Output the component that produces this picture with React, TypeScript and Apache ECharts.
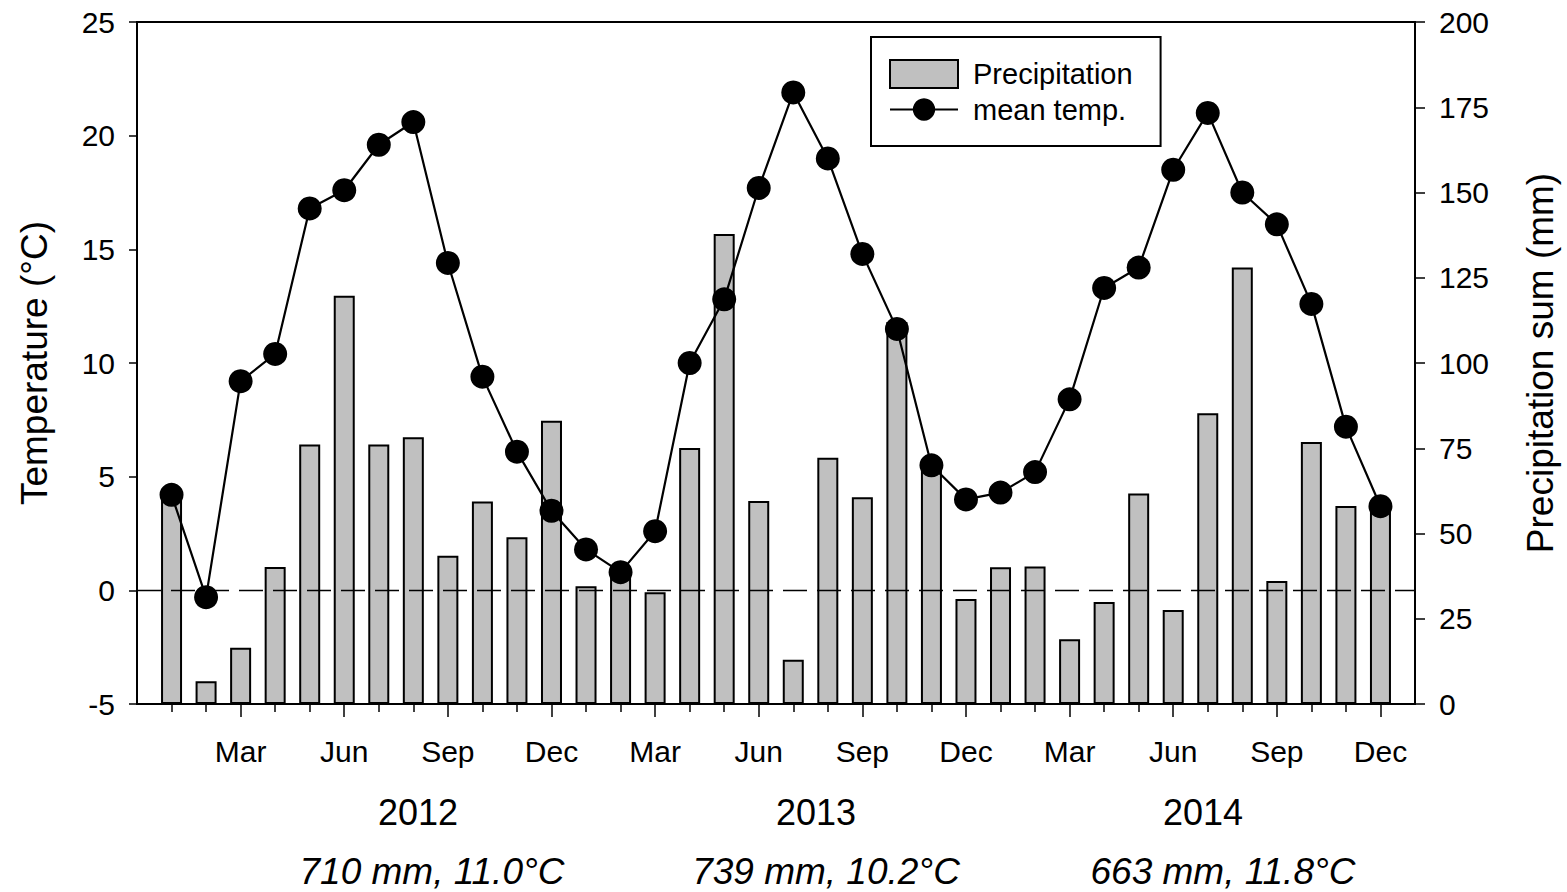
import React, { useEffect, useRef } from "react";
import * as echarts from "echarts";

// Monthly climate record, Jan 2012 – Dec 2014
const years = ["2012", "2013", "2014"];
const months = ["Jan", "Feb", "Mar", "Apr", "May", "Jun", "Jul", "Aug", "Sep", "Oct", "Nov", "Dec"];
const labelledMonths = ["Mar", "Jun", "Sep", "Dec"];

// Mean monthly air temperature (°C)
const temp2012 = [4.2, -0.3, 9.2, 10.4, 16.8, 17.6, 19.6, 20.6, 14.4, 9.4, 6.1, 3.5];
const temp2013 = [1.8, 0.8, 2.6, 10.0, 12.8, 17.7, 21.9, 19.0, 14.8, 11.5, 5.5, 4.0];
const temp2014 = [4.3, 5.2, 8.4, 13.3, 14.2, 18.5, 21.0, 17.5, 16.1, 12.6, 7.2, 3.7];

// Monthly precipitation sum (mm)
const precip2012 = [61, 6.7, 16.5, 40.2, 76.1, 119.7, 76.1, 78.2, 43.5, 59.4, 48.9, 83.1];
const precip2013 = [34.5, 38, 32.8, 75.1, 137.8, 59.5, 13, 72.2, 60.6, 112, 71, 30.8];
const precip2014 = [40.1, 40.3, 19, 29.9, 61.7, 27.6, 85.3, 128, 36.1, 76.8, 58.1, 58];

// Annual totals shown under the axis
const yearSummaries = ["710 mm, 11.0°C", "739 mm, 10.2°C", "663 mm, 11.8°C"];

const tempTicks = { min: -5, max: 25, interval: 5 };
const precipTicks = { min: 0, max: 200, interval: 25 };

const FONT = '"Liberation Sans", Arial, Helvetica, sans-serif';

export default function App() {
  const ref = useRef<HTMLDivElement>(null);

  useEffect(() => {
    if (!ref.current) return;
    const chart = echarts.init(ref.current, undefined, { renderer: "svg" });

    // One empty slot on each side of the 36 months
    const categories: string[] = ["pad-start"];
    years.forEach((y) => months.forEach((m) => categories.push(`${y}-${m}`)));
    categories.push("pad-end");

    const temps = [...temp2012, ...temp2013, ...temp2014];
    const precip = [...precip2012, ...precip2013, ...precip2014];

    const isMonth = (idx: number) => idx >= 1 && idx <= 36;
    const isMajor = (idx: number) =>
      isMonth(idx) && labelledMonths.includes(categories[idx].split("-")[1]);

    const yearX = [418, 816, 1203];
    const summaryX = [432, 826, 1223];

    const graphic: any[] = [];
    years.forEach((y, i) => {
      graphic.push({
        type: "text",
        x: yearX[i],
        y: 812,
        style: {
          text: y,
          font: `36px ${FONT}`,
          fill: "#000",
          textAlign: "center",
          textVerticalAlign: "middle",
        },
      });
      graphic.push({
        type: "text",
        x: summaryX[i],
        y: 871,
        style: {
          text: yearSummaries[i],
          font: `italic 37px ${FONT}`,
          fill: "#000",
          textAlign: "center",
          textVerticalAlign: "middle",
        },
      });
    });

    chart.setOption({
      animation: false,
      textStyle: { fontFamily: FONT, color: "#000" },
      grid: {
        left: 137,
        right: 149,
        top: 22,
        bottom: 188,
        show: true,
        borderColor: "#000",
        borderWidth: 2,
        backgroundColor: "transparent",
      },
      legend: {
        orient: "vertical",
        left: 871,
        top: 37,
        padding: [22, 28, 22, 18],
        itemGap: 6,
        itemWidth: 68,
        itemHeight: 28,
        borderColor: "#000",
        borderWidth: 2,
        textStyle: { fontSize: 29, color: "#000", fontFamily: FONT, padding: [0, 0, 0, 10] },
        data: [{ name: "Precipitation", icon: "rect" }, { name: "mean temp." }],
      },
      xAxis: [
        {
          type: "category",
          position: "bottom",
          data: categories,
          boundaryGap: false,
          axisLine: { onZero: false, lineStyle: { color: "#000", width: 2 } },
          axisTick: {
            interval: (idx: number) => isMonth(idx) && !isMajor(idx),
            length: 8,
            lineStyle: { color: "#000", width: 1.5 },
          },
          axisLabel: {
            interval: (idx: number) => isMajor(idx),
            formatter: (v: string) => v.split("-")[1] || "",
            fontSize: 30,
            color: "#000",
            margin: 32,
          },
          splitLine: { show: false },
        },
        {
          type: "category",
          position: "bottom",
          data: categories,
          boundaryGap: false,
          axisLine: { show: false, onZero: false },
          axisTick: {
            interval: (idx: number) => isMajor(idx),
            length: 13,
            lineStyle: { color: "#000", width: 1.5 },
          },
          axisLabel: { show: false },
          splitLine: { show: false },
        },
      ],
      yAxis: [
        {
          type: "value",
          position: "left",
          ...tempTicks,
          name: "Temperature (°C)",
          nameLocation: "middle",
          nameRotate: 90,
          nameGap: 84,
          nameTextStyle: { fontSize: 37, color: "#000", fontFamily: FONT },
          axisLine: { show: true, lineStyle: { color: "#000", width: 2 } },
          axisTick: { show: true, length: 8, lineStyle: { color: "#000", width: 1.5 } },
          axisLabel: { fontSize: 30, color: "#000", margin: 22 },
          splitLine: { show: false },
        },
        {
          type: "value",
          position: "right",
          ...precipTicks,
          name: "Precipitation sum (mm)",
          nameLocation: "middle",
          nameRotate: 90,
          nameGap: 107,
          nameTextStyle: { fontSize: 37, color: "#000", fontFamily: FONT },
          axisLine: { show: true, lineStyle: { color: "#000", width: 2 } },
          axisTick: { show: true, length: 10, lineStyle: { color: "#000", width: 1.5 } },
          axisLabel: { fontSize: 30, color: "#000", margin: 24 },
          splitLine: { show: false },
        },
      ],
      series: [
        {
          name: "Precipitation",
          type: "bar",
          xAxisIndex: 0,
          yAxisIndex: 1,
          barWidth: 21,
          itemStyle: { color: "#c0c0c0", borderColor: "#000", borderWidth: 2 },
          data: precip.map((v, i) => [i + 1, v]),
        },
        {
          name: "mean temp.",
          type: "line",
          xAxisIndex: 0,
          yAxisIndex: 0,
          symbol: "circle",
          symbolSize: 24,
          showSymbol: true,
          showAllSymbol: true,
          itemStyle: { color: "#000" },
          lineStyle: { color: "#000", width: 2.2 },
          data: temps.map((v, i) => [i + 1, v]),
          markLine: {
            silent: true,
            symbol: ["none", "none"],
            label: { show: false },
            lineStyle: { color: "#000", type: [24, 10], width: 1.3 },
            data: [{ yAxis: 0 }],
          },
        },
      ],
      graphic,
    });

    return () => chart.dispose();
  }, []);

  return (
    <div
      ref={ref}
      style={{ position: "fixed", left: 0, top: 0, width: "1567px", height: "892px", background: "#fff" }}
    />
  );
}
